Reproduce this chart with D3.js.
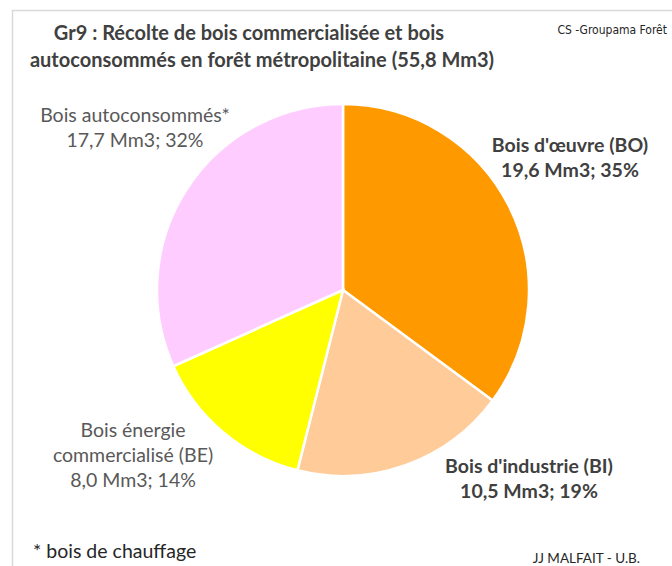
<!DOCTYPE html>
<html>
<head>
<meta charset="utf-8">
<script src="https://cdn.jsdelivr.net/npm/d3@7.9.0/dist/d3.min.js"></script>
<style>
  body { margin: 0; background: #fff; }
  svg { display: block; font-family: Lato, "Open Sans", sans-serif; }
</style>
</head>
<body>
<svg id="chart" width="672" height="566"></svg>
<script>
const categories = ["Bois d'œuvre (BO)", "Bois d'industrie (BI)", "Bois énergie commercialisé (BE)", "Bois autoconsommés*"];
const volumes = [19.6, 10.5, 8.0, 17.7];
const volumeLabels = ["19,6", "10,5", "8,0", "17,7"];
const percents = [35, 19, 14, 32];
const colors = ["#ff9900", "#ffcc99", "#ffff00", "#ffccff"];

// label lines per slice, and whether bold
const labelLines = [
  ["Bois d'œuvre (BO)", "19,6 Mm3; 35%"],
  ["Bois d'industrie (BI)", "10,5 Mm3; 19%"],
  ["Bois énergie", "commercialisé (BE)", "8,0 Mm3; 14%"],
  ["Bois autoconsommés*", "17,7 Mm3; 32%"]
];
const labelBold = [true, true, false, false];
const labelPos = [[570, 152], [529, 473], [133, 437], [135, 122]];

const svg = d3.select('#chart');

// frame
svg.append('rect')
  .attr('x', 12.5).attr('y', 10.5)
  .attr('width', 700).attr('height', 600)
  .attr('fill', 'none')
  .attr('stroke', '#d9d9d9')
  .attr('stroke-width', 1.5);

// title
const title = svg.append('text')
  .attr('text-anchor', 'middle')
  .attr('font-weight', 'bold')
  .attr('font-size', 20)
  .attr('fill', '#404040');
title.append('tspan').attr('x', 249).attr('y', 40).text('Gr9 : Récolte de bois commercialisée et bois');
title.append('tspan').attr('x', 262).attr('y', 67).text('autoconsommés en forêt métropolitaine (55,8 Mm3)');

svg.append('text')
  .attr('x', 667).attr('y', 34)
  .attr('text-anchor', 'end')
  .attr('font-size', 12)
  .attr('font-family', '"Liberation Sans Narrow", "DejaVu Sans Condensed", sans-serif')
  .attr('fill', '#262626')
  .text('CS -Groupama Forêt');

// pie
const cx = 343, cy = 290, radius = 186;
const pie = d3.pie().sort(null).value(d => d);
const arc = d3.arc().innerRadius(0).outerRadius(radius);

const g = svg.append('g').attr('transform', `translate(${cx},${cy})`);
g.selectAll('path')
  .data(pie(volumes))
  .join('path')
  .attr('d', arc)
  .attr('fill', (d, i) => colors[i])
  .attr('stroke', '#fff')
  .attr('stroke-width', 2.5);

// labels
labelLines.forEach((lines, i) => {
  const t = svg.append('text')
    .attr('text-anchor', 'middle')
    .attr('font-size', 19.5)
    .attr('font-weight', labelBold[i] ? 'bold' : 'normal')
    .attr('fill', labelBold[i] ? '#404040' : '#595959');
  lines.forEach((line, j) => {
    t.append('tspan')
      .attr('x', labelPos[i][0])
      .attr('y', labelPos[i][1] + j * 25)
      .text(line);
  });
});

// footnotes
svg.append('text')
  .attr('x', 33).attr('y', 558)
  .attr('font-size', 19.5)
  .attr('fill', '#262626')
  .text('* bois de chauffage');

svg.append('text')
  .attr('x', 640).attr('y', 563)
  .attr('text-anchor', 'end')
  .attr('font-size', 13.5)
  .attr('fill', '#262626')
  .text('JJ MALFAIT -  U.B.');
</script>
</body>
</html>
